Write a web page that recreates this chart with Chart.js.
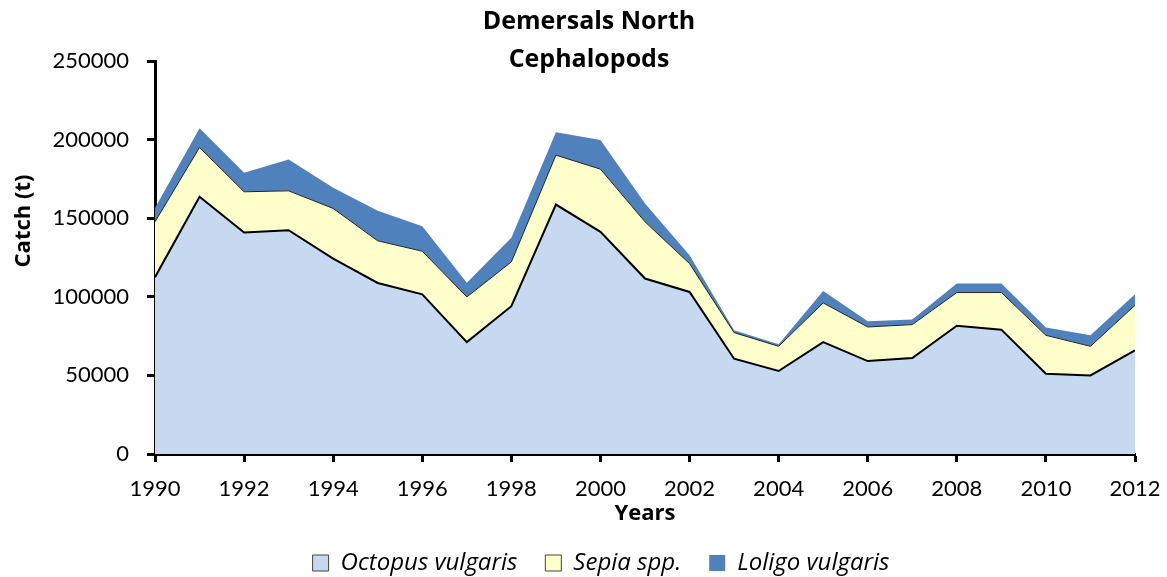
<!DOCTYPE html>
<html>
<head>
<meta charset="utf-8">
<script src="https://cdn.jsdelivr.net/npm/chart.js@4"></script>
<style>
  html, body { margin: 0; padding: 0; background: #fff; }
  #wrap { width: 1167px; height: 577px; position: relative; }
</style>
</head>
<body>
<div id="wrap"><canvas id="catchChart"></canvas></div>
<script>
const years = [1990, 1991, 1992, 1993, 1994, 1995, 1996, 1997, 1998, 1999, 2000, 2001,
  2002, 2003, 2004, 2005, 2006, 2007, 2008, 2009, 2010, 2011, 2012];
const octopus = [112500, 163600, 140900, 142400, 124300, 108800, 101600, 71200, 94000, 158700, 141300, 111600,
  103100, 60600, 52800, 71200, 59100, 61000, 81600, 79100, 51100, 50000, 65900];
const sepia = [35200, 31400, 25900, 25000, 31900, 26800, 27400, 28700, 28200, 31400, 39900, 36100,
  18000, 16600, 15700, 24900, 21700, 21300, 21100, 23600, 24400, 18500, 28700];
const loligo = [8800, 12200, 12100, 20000, 13100, 19100, 15900, 9100, 15300, 14500, 18500, 11700,
  5300, 1500, 1300, 7600, 3600, 3200, 5700, 5700, 4900, 7000, 7000];
const seriesNames = ["Octopus vulgaris", "Sepia spp.", "Loligo vulgaris"];
const titleLines = ["Demersals North", "Cephalopods"];
const yAxisTitle = "Catch (t)";
const xAxisTitle = "Years";

const tickFont = "Lato, Carlito, sans-serif";
const textFont = "'Open Sans', Lato, sans-serif";

const toPoints = (vals) => vals.map((v, i) => ({ x: years[i], y: v }));

// title and y axis title drawn by hand: in the original they don't sit where chart.js would centre them
const textPlugin = {
  id: "extraText",
  afterDraw(chart) {
    const ctx = chart.ctx;
    ctx.save();
    ctx.fillStyle = "#000";
    ctx.textAlign = "center";
    ctx.textBaseline = "alphabetic";
    ctx.font = "bold 25px " + textFont;
    ctx.fillText(titleLines[0], 589, 29);
    ctx.fillText(titleLines[1], 589, 67);

    ctx.font = "bold 22px " + textFont;
    ctx.textBaseline = "middle";
    ctx.translate(24, 221);
    ctx.rotate(-Math.PI / 2);
    ctx.fillText(yAxisTitle, 0, 0);
    ctx.restore();
  }
};

const ctx = document.getElementById("catchChart").getContext("2d");
new Chart(ctx, {
  type: "line",
  data: {
    datasets: [
      {
        label: seriesNames[0],
        data: toPoints(octopus),
        backgroundColor: "#C6D9F1",
        borderColor: "#000",
        borderWidth: 2,
        fill: "origin"
      },
      {
        label: seriesNames[1],
        data: toPoints(sepia),
        backgroundColor: "#FFFFCC",
        borderColor: "#222",
        borderWidth: 1,
        fill: "-1"
      },
      {
        label: seriesNames[2],
        data: toPoints(loligo),
        backgroundColor: "#4F81BD",
        borderColor: "#4F81BD",
        borderWidth: 0,
        fill: "-1"
      }
    ]
  },
  options: {
    responsive: true,
    maintainAspectRatio: false,
    animation: false,
    layout: { padding: { top: 61, right: 0, left: 35, bottom: -8 } },
    elements: { point: { radius: 0 }, line: { tension: 0 } },
    plugins: {
      title: { display: false },
      tooltip: { enabled: false },
      legend: {
        position: "bottom",
        labels: {
          color: "#000",
          boxWidth: 16,
          boxHeight: 16,
          padding: 28,
          font: { family: textFont, size: 24, style: "italic" },
          generateLabels: (chart) => {
            const items = Chart.defaults.plugins.legend.labels.generateLabels(chart);
            items.forEach((it, i) => {
              it.lineWidth = i < 2 ? 1 : 0;
              it.strokeStyle = "#444";
            });
            return items;
          }
        }
      }
    },
    scales: {
      x: {
        type: "linear",
        min: 1990,
        max: 2012,
        border: { display: true, color: "#000", width: 3 },
        grid: { display: true, drawOnChartArea: false, drawTicks: true, tickLength: 8, tickWidth: 3, tickColor: "#000" },
        ticks: {
          stepSize: 2,
          color: "#000",
          padding: 14,
          maxRotation: 0,
          font: { family: tickFont, size: 22 },
          callback: (v) => String(v)
        },
        title: {
          display: true,
          text: xAxisTitle,
          color: "#000",
          padding: { top: 0, bottom: -4 },
          font: { family: textFont, size: 22, weight: "bold" }
        },
        afterFit: (scale) => {
          scale.height = 69;
          scale.paddingLeft = 0;
          scale.paddingRight = 32;
        }
      },
      y: {
        stacked: true,
        min: 0,
        max: 250000,
        border: { display: true, color: "#000", width: 3 },
        grid: { display: true, drawOnChartArea: false, drawTicks: true, tickLength: 8, tickWidth: 3, tickColor: "#000" },
        ticks: {
          stepSize: 50000,
          color: "#000",
          padding: 18,
          font: { family: tickFont, size: 22 },
          callback: (v) => String(v)
        },
        title: { display: false },
        afterFit: (scale) => { scale.width = 120; }
      }
    }
  },
  plugins: [textPlugin]
});
</script>
</body>
</html>
